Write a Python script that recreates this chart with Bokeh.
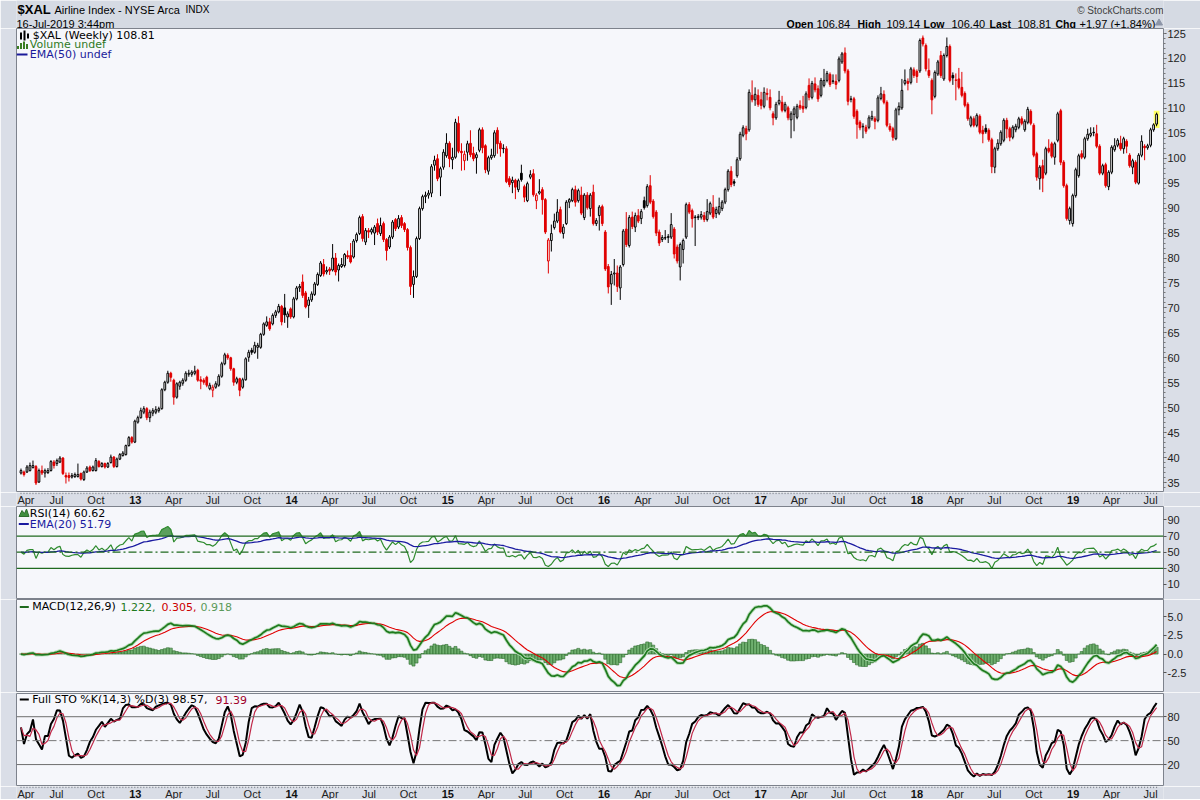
import numpy as np
import pandas as pd
from bokeh.plotting import figure
from bokeh.layouts import column
from bokeh.models import (Range1d, FixedTicker, Span, PrintfTickFormatter, Label,
                          LabelSet, ColumnDataSource)
from bokeh.core.properties import value
from bokeh.embed import file_html
from bokeh.resources import INLINE

# ---------------- data (weekly $XAL) ----------------
last_week = "2019-07-15"
opens = [36.9, 37.1, 37.1, 37.4, 38.0, 38.2, 35.1, 37.4, 36.9, 37.0,
         37.4, 39.1, 38.8, 39.1, 39.9, 36.4, 36.4, 36.1, 36.2, 36.2,
         36.8, 35.6, 37.1, 38.1, 37.4, 37.4, 39.2, 38.2, 38.8, 38.1,
         39.0, 40.1, 38.2, 39.7, 40.4, 40.6, 42.4, 44.0, 43.1, 47.1,
         48.0, 49.1, 49.8, 48.0, 48.9, 49.1, 49.4, 49.8, 53.6, 55.1,
         56.9, 55.5, 52.1, 54.3, 54.9, 55.5, 56.7, 56.7, 56.9, 57.5,
         55.6, 55.5, 56.1, 53.8, 53.5, 54.1, 54.5, 56.3, 58.8, 60.5,
         60.0, 57.8, 55.1, 55.8, 54.1, 55.6, 60.1, 61.5, 61.1, 62.1,
         62.1, 64.7, 66.5, 67.2, 66.8, 68.5, 69.2, 70.3, 70.0, 68.2,
         69.8, 68.2, 71.8, 74.0, 75.2, 73.0, 70.5, 71.6, 72.7, 74.7,
         76.5, 78.7, 77.2, 77.8, 77.6, 80.0, 77.6, 78.3, 78.5, 80.5,
         80.5, 80.2, 83.5, 84.9, 88.3, 83.2, 85.5, 85.2, 85.0, 86.9,
         84.9, 86.9, 83.7, 82.2, 84.2, 87.7, 86.2, 88.1, 86.9, 85.7,
         82.1, 74.7, 76.3, 83.9, 89.9, 92.3, 92.6, 93.0, 98.6, 99.9,
         96.2, 98.2, 100.5, 103.0, 99.7, 100.2, 107.0, 101.4, 99.5, 101.2,
         103.0, 101.0, 100.1, 101.6, 105.7, 102.5, 97.4, 100.1, 100.5, 105.6,
         103.0, 101.9, 101.9, 95.9, 95.1, 95.6, 93.7, 97.0, 94.3, 91.5,
         96.2, 96.9, 91.5, 93.0, 93.7, 91.7, 79.4, 83.5, 86.1, 87.4,
         89.7, 84.9, 86.9, 91.2, 91.5, 93.7, 91.5, 92.6, 88.1, 92.6,
         89.9, 93.2, 86.9, 88.5, 90.3, 85.2, 78.3, 74.8, 76.8, 77.0,
         74.0, 78.7, 85.8, 82.5, 88.2, 86.2, 88.5, 87.9, 91.5, 90.5,
         94.5, 91.4, 89.2, 85.2, 83.7, 84.0, 84.1, 84.2, 85.8, 82.2,
         78.2, 81.7, 84.2, 90.7, 89.5, 88.1, 88.1, 88.2, 88.5, 87.7,
         89.0, 90.1, 88.9, 89.0, 89.9, 91.2, 93.7, 97.4, 95.3, 96.5,
         99.9, 104.6, 105.9, 105.7, 112.6, 111.7, 112.6, 111.7, 110.4, 113.0,
         112.2, 108.9, 108.1, 111.0, 111.2, 109.6, 110.1, 107.7, 108.8, 108.2,
         110.6, 110.4, 110.2, 114.6, 112.2, 114.9, 113.9, 112.6, 114.6, 115.6,
         116.8, 115.4, 115.4, 115.6, 119.3, 121.1, 117.5, 111.8, 111.9, 109.4,
         107.2, 106.3, 106.2, 106.2, 107.9, 107.9, 107.6, 112.0, 112.8, 111.2,
         106.4, 105.9, 103.9, 109.7, 110.1, 115.0, 115.4, 115.2, 117.7, 117.4,
         117.5, 124.1, 122.6, 117.6, 115.6, 112.4, 116.9, 120.6, 115.9, 120.6,
         122.4, 116.6, 115.7, 115.9, 114.2, 113.0, 110.8, 106.6, 107.9, 106.6,
         108.4, 105.6, 106.0, 105.6, 103.7, 98.2, 101.9, 102.9, 103.6, 107.6,
         105.9, 104.2, 105.7, 106.2, 107.9, 105.7, 107.2, 109.4, 106.6, 100.9,
         95.9, 98.5, 97.0, 102.0, 102.9, 100.2, 103.6, 109.5, 99.2, 94.5,
         87.5, 86.9, 92.5, 96.5, 100.9, 100.2, 103.9, 104.6, 105.2, 104.9,
         102.4, 97.0, 98.7, 94.3, 97.2, 101.7, 102.6, 103.0, 101.9, 103.4,
         100.6, 98.2, 99.2, 95.0, 100.6, 102.4, 102.1, 102.6, 105.7, 106.84]
highs = [37.8, 37.4, 38.5, 39.0, 39.4, 38.5, 37.8, 38.4, 37.8, 37.9,
         39.5, 39.5, 39.8, 40.3, 40.1, 37.0, 37.0, 36.9, 37.0, 38.8,
         37.0, 37.4, 38.3, 38.4, 38.4, 39.9, 39.5, 39.1, 39.0, 39.1,
         40.6, 40.3, 40.0, 40.9, 41.3, 42.6, 44.3, 44.3, 47.6, 48.4,
         50.0, 50.3, 50.1, 49.6, 49.9, 50.3, 50.2, 53.9, 55.4, 57.4,
         57.2, 55.8, 55.1, 55.4, 55.9, 57.3, 57.6, 57.5, 58.4, 57.8,
         56.3, 55.9, 56.4, 55.0, 54.6, 55.3, 56.7, 59.2, 61.0, 60.9,
         60.2, 58.0, 56.2, 56.0, 56.0, 60.1, 61.6, 62.0, 63.2, 63.0,
         65.0, 67.1, 68.3, 68.0, 68.9, 69.6, 70.8, 70.6, 72.8, 69.3,
         70.1, 72.2, 74.4, 74.8, 76.7, 73.4, 72.2, 73.3, 75.2, 77.1,
         79.4, 79.8, 78.3, 78.2, 82.8, 81.0, 78.9, 80.0, 81.0, 81.5,
         83.0, 83.8, 85.1, 88.5, 88.8, 86.0, 86.0, 86.1, 86.6, 87.9,
         88.1, 87.3, 84.0, 84.6, 87.6, 88.0, 88.6, 88.6, 87.2, 86.0,
         82.5, 77.5, 84.3, 90.3, 92.7, 93.3, 93.6, 98.8, 100.5, 100.8,
         98.3, 101.8, 105.0, 103.4, 102.1, 107.9, 108.4, 103.0, 101.5, 103.5,
         105.6, 102.3, 101.2, 106.1, 106.2, 102.8, 100.5, 101.9, 105.6, 106.2,
         103.5, 102.8, 102.4, 96.4, 96.3, 95.9, 95.9, 98.7, 94.7, 95.3,
         97.6, 97.8, 93.0, 95.8, 94.2, 92.0, 84.0, 86.7, 88.9, 91.8,
         90.3, 86.8, 91.6, 92.0, 94.1, 94.5, 93.9, 94.3, 93.0, 93.2,
         93.0, 94.7, 88.0, 90.6, 90.7, 85.6, 78.8, 77.4, 79.8, 78.5,
         78.6, 85.8, 89.2, 88.6, 89.3, 89.1, 89.8, 89.8, 92.3, 94.8,
         96.6, 91.8, 89.6, 85.7, 84.6, 85.6, 84.8, 89.0, 86.2, 82.7,
         83.1, 83.9, 91.1, 91.2, 89.9, 88.6, 88.8, 89.4, 89.2, 91.8,
         91.3, 92.6, 90.3, 92.1, 91.6, 94.1, 97.8, 98.4, 95.8, 100.2,
         105.3, 106.6, 106.5, 113.8, 115.6, 114.2, 113.8, 113.3, 114.2, 114.0,
         113.8, 109.4, 111.3, 113.5, 112.5, 111.3, 110.5, 109.4, 110.4, 110.9,
         111.6, 112.5, 113.4, 116.0, 115.5, 116.2, 114.6, 116.1, 117.9, 117.5,
         117.2, 116.8, 116.8, 120.4, 121.3, 122.2, 117.9, 112.5, 112.3, 109.8,
         107.6, 107.0, 106.7, 108.6, 109.5, 108.4, 112.6, 114.3, 113.6, 111.6,
         107.0, 106.3, 110.1, 111.2, 115.9, 117.8, 116.0, 118.3, 118.2, 117.8,
         124.0, 124.6, 123.0, 120.0, 116.0, 117.6, 119.7, 121.5, 121.0, 124.2,
         122.8, 117.2, 117.0, 118.1, 117.3, 113.4, 111.2, 108.5, 108.4, 109.0,
         108.8, 106.5, 106.8, 106.0, 104.1, 102.3, 103.8, 105.6, 108.0, 108.1,
         106.3, 106.6, 106.9, 108.3, 108.4, 107.8, 110.3, 109.8, 107.0, 101.3,
         98.6, 99.7, 102.3, 103.8, 103.3, 103.3, 109.3, 109.9, 99.6, 94.9,
         90.3, 92.9, 98.1, 100.9, 101.6, 104.3, 105.9, 106.2, 106.2, 106.7,
         102.8, 98.9, 99.1, 97.6, 102.6, 104.0, 104.0, 104.5, 104.3, 103.8,
         101.0, 99.9, 99.6, 101.0, 104.6, 102.8, 102.9, 106.1, 107.0, 109.14]
lows = [36.6, 36.2, 36.9, 37.2, 37.8, 34.5, 34.9, 36.5, 36.0, 36.7,
        37.2, 37.8, 38.3, 38.9, 36.5, 34.8, 35.2, 35.8, 35.9, 36.0,
        35.4, 35.3, 36.9, 37.1, 37.2, 37.2, 38.0, 38.0, 37.8, 37.9,
        38.8, 37.9, 38.0, 39.5, 40.2, 40.4, 42.2, 42.8, 42.9, 46.8,
        47.8, 48.7, 47.5, 47.1, 48.3, 48.7, 49.0, 49.6, 53.3, 54.8,
        55.2, 50.6, 51.8, 53.6, 54.4, 55.2, 56.2, 56.2, 56.5, 55.2,
        53.7, 54.6, 54.1, 53.5, 52.1, 53.8, 54.2, 56.0, 58.5, 59.6,
        57.4, 54.4, 54.7, 52.3, 53.8, 55.4, 59.2, 60.6, 60.8, 59.8,
        61.8, 64.4, 66.2, 65.4, 66.5, 68.0, 68.9, 66.5, 67.0, 66.0,
        67.8, 67.9, 71.5, 73.2, 72.0, 69.9, 68.0, 71.2, 72.4, 74.4,
        76.2, 76.3, 76.7, 76.6, 77.3, 76.5, 75.3, 78.0, 78.1, 79.8,
        78.9, 79.9, 83.1, 84.6, 83.3, 82.6, 84.0, 84.7, 82.6, 84.6,
        84.4, 83.2, 79.5, 81.8, 83.8, 85.4, 85.8, 86.0, 85.2, 81.5,
        72.6, 72.0, 76.0, 83.6, 89.5, 91.0, 91.9, 92.2, 97.5, 95.4,
        92.4, 97.7, 100.1, 98.2, 97.8, 99.9, 101.0, 97.5, 97.6, 99.5,
        100.2, 99.4, 96.9, 101.2, 101.0, 97.0, 96.7, 99.7, 100.1, 100.9,
        100.3, 101.0, 95.0, 94.2, 93.0, 91.8, 93.2, 95.3, 91.2, 91.2,
        95.8, 92.3, 89.8, 92.7, 88.7, 84.8, 76.9, 81.3, 85.7, 87.0,
        84.9, 83.9, 86.6, 90.0, 91.2, 90.3, 91.1, 88.6, 87.6, 89.7,
        88.3, 86.5, 86.4, 85.5, 86.4, 77.4, 72.9, 70.6, 74.5, 73.2,
        71.6, 78.3, 82.2, 82.1, 85.8, 85.2, 87.0, 86.8, 89.7, 90.1,
        90.8, 87.9, 84.4, 82.4, 83.2, 83.6, 83.0, 83.8, 79.9, 78.9,
        75.5, 78.9, 83.8, 88.8, 86.1, 82.4, 87.6, 87.7, 87.2, 87.3,
        88.6, 87.8, 88.0, 88.6, 89.4, 90.8, 93.3, 94.2, 94.4, 96.1,
        99.5, 104.2, 103.6, 105.3, 111.2, 110.5, 110.3, 109.8, 110.0, 111.6,
        109.6, 106.6, 107.7, 110.6, 109.2, 109.2, 107.6, 104.0, 105.4, 107.8,
        109.7, 109.1, 109.8, 111.6, 111.8, 113.2, 111.3, 112.2, 114.2, 115.2,
        114.3, 114.9, 113.8, 115.2, 118.9, 117.0, 110.6, 111.2, 107.9, 103.9,
        105.6, 104.0, 104.9, 105.8, 107.5, 105.8, 107.2, 111.6, 110.8, 106.2,
        105.3, 103.5, 103.6, 108.6, 109.7, 114.6, 113.6, 114.8, 116.1, 115.1,
        117.1, 122.4, 117.4, 116.1, 108.8, 112.0, 116.5, 116.1, 115.5, 120.2,
        115.2, 114.7, 111.6, 113.8, 112.2, 110.2, 107.5, 106.2, 106.2, 106.2,
        104.8, 103.0, 104.9, 103.3, 97.0, 97.0, 101.5, 102.5, 103.2, 104.0,
        103.4, 103.8, 105.2, 105.8, 106.6, 105.3, 106.8, 106.6, 100.2, 95.5,
        93.7, 93.2, 96.6, 101.0, 100.0, 98.7, 103.2, 98.6, 94.1, 87.5,
        86.7, 86.3, 92.1, 96.1, 99.8, 99.8, 103.5, 104.2, 104.4, 102.0,
        96.6, 96.6, 94.1, 93.6, 96.8, 101.3, 102.2, 101.5, 100.9, 101.0,
        98.1, 96.8, 94.8, 94.7, 100.2, 99.6, 101.7, 102.2, 105.3, 106.40]
closes = [37.4, 36.6, 38.1, 38.4, 38.4, 34.9, 37.4, 36.9, 37.4, 37.4,
          39.2, 38.4, 39.4, 39.9, 36.8, 36.1, 36.0, 36.4, 36.6, 36.6,
          35.7, 37.1, 37.9, 37.4, 38.1, 39.4, 38.2, 38.8, 38.1, 38.8,
          40.1, 38.2, 39.7, 40.6, 40.9, 42.4, 44.0, 43.1, 47.3, 48.0,
          49.4, 49.8, 48.0, 49.1, 49.4, 49.6, 49.8, 53.6, 55.1, 56.9,
          56.1, 52.1, 54.8, 55.1, 55.5, 56.9, 56.9, 57.1, 57.3, 55.5,
          55.3, 55.1, 54.5, 54.5, 54.1, 54.8, 56.3, 58.8, 60.6, 60.0,
          57.8, 55.1, 55.8, 53.5, 55.6, 59.8, 61.1, 61.1, 62.5, 62.5,
          64.7, 66.8, 67.2, 65.8, 68.5, 69.2, 70.3, 67.2, 68.6, 68.8,
          68.2, 71.8, 74.0, 74.3, 72.5, 70.2, 71.6, 72.8, 74.8, 76.7,
          79.0, 76.8, 77.5, 77.4, 80.0, 77.2, 78.5, 78.7, 80.7, 80.2,
          79.2, 83.4, 84.7, 88.1, 83.9, 85.5, 85.2, 85.7, 86.2, 85.2,
          86.5, 83.7, 81.5, 84.2, 87.2, 85.9, 87.9, 86.5, 85.7, 82.1,
          74.3, 76.3, 83.9, 89.9, 92.3, 92.6, 93.0, 98.3, 99.6, 95.9,
          97.9, 101.2, 103.0, 99.9, 100.2, 107.2, 101.4, 101.1, 100.8, 102.9,
          100.7, 99.9, 100.7, 105.7, 102.1, 97.7, 100.1, 100.6, 105.1, 102.9,
          101.9, 102.0, 95.3, 94.7, 95.6, 94.2, 95.5, 95.7, 92.2, 94.9,
          96.7, 92.7, 92.6, 93.3, 91.7, 85.2, 83.6, 84.9, 87.4, 89.2,
          85.2, 86.2, 91.2, 91.7, 93.7, 91.2, 93.5, 89.0, 92.6, 90.1,
          92.6, 86.9, 87.5, 90.2, 86.9, 77.8, 74.2, 76.7, 77.0, 74.3,
          78.2, 85.4, 82.7, 88.1, 86.3, 88.5, 87.4, 89.3, 90.1, 94.3,
          91.2, 88.3, 85.0, 83.0, 84.1, 84.1, 84.3, 86.7, 80.8, 79.4,
          82.7, 83.5, 90.7, 89.2, 87.9, 88.2, 88.3, 88.7, 87.7, 89.3,
          90.9, 88.2, 89.7, 90.3, 91.2, 93.7, 97.4, 94.7, 95.0, 99.7,
          104.8, 106.1, 104.9, 113.2, 111.7, 112.8, 110.8, 110.6, 113.2, 112.8,
          110.1, 108.1, 110.8, 111.6, 109.6, 110.8, 108.1, 108.9, 109.9, 110.4,
          110.1, 109.9, 112.9, 112.2, 115.0, 113.7, 111.9, 115.6, 115.6, 117.0,
          114.8, 115.5, 114.8, 119.9, 120.9, 117.5, 111.4, 111.9, 108.4, 106.8,
          106.1, 106.4, 105.4, 108.1, 108.4, 107.4, 112.1, 112.9, 111.2, 106.6,
          105.7, 104.2, 109.7, 110.4, 113.6, 115.6, 115.0, 117.9, 116.6, 116.4,
          123.6, 122.9, 117.9, 116.6, 111.7, 117.2, 119.3, 116.6, 120.6, 122.4,
          115.6, 116.1, 115.6, 114.2, 112.6, 110.6, 107.9, 108.1, 106.6, 108.6,
          105.2, 104.9, 105.3, 103.7, 98.3, 101.9, 103.0, 105.2, 107.6, 105.9,
          104.2, 106.2, 106.4, 107.9, 107.0, 107.4, 109.8, 107.0, 100.6, 96.2,
          98.2, 96.0, 101.9, 101.4, 100.4, 102.9, 108.9, 99.2, 94.5, 87.9,
          89.9, 92.5, 97.7, 100.5, 100.2, 103.9, 104.8, 105.0, 105.1, 102.4,
          97.0, 98.5, 94.5, 97.2, 102.2, 102.5, 103.6, 101.9, 103.9, 102.4,
          98.5, 99.5, 95.2, 100.6, 103.4, 102.1, 102.5, 105.7, 106.7, 108.81]

price_ticks = list(range(35, 130, 5))
rsi_ticks = [10, 30, 50, 70, 90]
macd_ticks = [-2.5, 0.0, 2.5, 5.0]
sto_ticks = [20, 50, 80]
rsi_levels = [70, 30]
sto_levels = [80, 20]

# ---------------- derived series ----------------
O = np.array(opens); H = np.array(highs); L = np.array(lows); C = np.array(closes)
n = len(C)
idx = np.arange(n)
dates = pd.date_range(end=last_week, periods=n, freq="W-MON")

d = np.diff(C, prepend=C[0])
gain = np.clip(d, 0, None)
loss = np.clip(-d, 0, None)
ag = al = np.mean(np.abs(d[1:15])) / 2
rsi = np.empty(n)
for i in range(n):
    if i > 0:
        ag = (ag * 13 + gain[i]) / 14
        al = (al * 13 + loss[i]) / 14
    rsi[i] = 100 - 100 / (1 + ag / al) if al > 0 else 100.0
rsi_ema = pd.Series(rsi).ewm(span=20, adjust=False).mean().values

cs = pd.Series(C)
macd = (cs.ewm(span=12, adjust=False).mean() - cs.ewm(span=26, adjust=False).mean()).values
signal = pd.Series(macd).ewm(span=9, adjust=False).mean().values
hist = macd - signal

hh = pd.Series(H).rolling(14, min_periods=1).max().values
ll = pd.Series(L).rolling(14, min_periods=1).min().values
fastk = 100 * (C - ll) / (hh - ll)
stok = pd.Series(fastk).rolling(3, min_periods=1).mean().values
stod = pd.Series(stok).rolling(3, min_periods=1).mean().values

# ---------------- styling / geometry ----------------
PLOT_BG = "#F6F7FB"
BORDER = "#DADEE7"
HEAD_BG = "#D5DAE3"
LAB_BG = "#D9DDE6"
OUTLINE = "#7D828C"
RED = "#E00000"
W = 1200
LEFT, RIGHT = 16, 37
FRAME_W = W - LEFT - RIGHT
X0 = -1.5
X1 = n - 1 + 2.3
xr = Range1d(X0, X1)
ppu = FRAME_W / (X1 - X0)
LEG_FONT = value("DejaVu Sans")
AX_FONT = "Liberation Sans"


def fx(px):
    return X0 + px / ppu


def fy(py, yr, h):
    return yr[1] - py * (yr[1] - yr[0]) / h


def base_fig(h, x_range, y_range, top=0):
    p = figure(width=W, height=h + top, x_range=x_range, y_range=y_range,
               output_backend="svg", toolbar_location=None, tools="",
               x_axis_location=None, y_axis_location=None,
               min_border_left=LEFT, min_border_right=RIGHT,
               min_border_top=top, min_border_bottom=0)
    p.grid.visible = False
    return p


def panel(h, yr, ticks, top=0, minor=None):
    p = figure(width=W, height=h + top, x_range=xr, y_range=Range1d(*yr),
               output_backend="svg", toolbar_location=None, tools="",
               x_axis_location=None, y_axis_location="right",
               min_border_left=LEFT, min_border_right=RIGHT,
               min_border_top=top, min_border_bottom=0)
    p.background_fill_color = PLOT_BG
    p.border_fill_color = BORDER
    p.outline_line_color = OUTLINE
    p.outline_line_width = 1
    p.xgrid.visible = False
    p.ygrid.visible = False
    ax = p.yaxis[0]
    ax.ticker = FixedTicker(ticks=ticks, minor_ticks=minor or [])
    ax.axis_line_color = None
    ax.major_tick_out = 3
    ax.major_tick_in = 0
    ax.minor_tick_out = 2
    ax.minor_tick_in = 0
    ax.major_tick_line_color = "#555555"
    ax.minor_tick_line_color = "#777777"
    ax.major_label_standoff = 1
    ax.major_label_text_font = AX_FONT
    ax.major_label_text_font_size = "11px"
    ax.major_label_text_color = "#222222"
    return p


def ptext(p, yr, h, px, py, txt, color="#000000", size="11px", style="normal"):
    p.text(x=[fx(px)], y=[fy(py, yr, h)], text=[txt], text_color=color,
           text_font=LEG_FONT, text_font_size=size, text_font_style=style,
           text_align="left", text_baseline="middle")


def hline_icon(p, yr, h, px0, px1, py, color, width=2):
    p.line(x=[fx(px0), fx(px1)], y=[fy(py, yr, h)] * 2, line_color=color, line_width=width)


# ---------------- header ----------------
HDR_H = 28
hdr = base_fig(HDR_H, Range1d(LEFT, W - RIGHT), Range1d(0, HDR_H))
hdr.background_fill_color = HEAD_BG
hdr.border_fill_color = HEAD_BG
hdr.outline_line_color = None


def htext(x, y_top, txt, size="12px", style="normal", color="#000000", align="left"):
    hdr.add_layout(Label(x=x, y=HDR_H - y_top, text=txt, text_font=AX_FONT,
                         text_font_size=size, text_font_style=style, text_color=color,
                         text_align=align, text_baseline="middle"))


htext(17, 8.5, "$XAL", size="13px", style="bold")
htext(54, 9, "Airline Index - NYSE Arca", size="11px")
htext(185, 9, "INDX", size="10px")
htext(16, 23, "16-Jul-2019 3:44pm", size="11px")
htext(1163, 9.5, "\u00a9 StockCharts.com", size="10px", color="#404040", align="right")
parts = [(786, "Open", "bold"), (816, "106.84", "normal"), (857, "High", "bold"),
         (886, "109.14", "normal"), (923, "Low", "bold"), (951, "106.40", "normal"),
         (989, "Last", "bold"), (1017, "108.81", "normal"), (1055, "Chg", "bold"),
         (1079, "+1.97 (+1.84%)", "normal")]
for x, t, s in parts:
    htext(x, 23, t, size="10.5px" if s == "bold" else "11px", style=s)
hdr.scatter(x=[1158.5], y=[HDR_H - 22.5], marker="triangle", size=7, color="#8D96A8")

# ---------------- main price panel ----------------
MH = 464
MYR = (33.0, 126.0)
main = panel(MH, MYR, price_ticks, minor=list(range(34, 126)))

prevC = np.r_[O[0], C[:-1]]
line_col = np.where(C >= prevC, "#000000", RED)
fill_col = np.where(C > O, "#FFFFFF", line_col)
top = np.maximum(O, C)
bot = np.minimum(O, C)
hi = np.maximum(H, top)
lo = np.minimum(L, bot)

main.quad(left=[idx[-1] - 0.95], right=[idx[-1] + 0.95], bottom=[lo[-1] - 0.35],
          top=[hi[-1] + 0.35], fill_color="#FFFF66", line_color=None)
main.segment(x0=idx, y0=lo, x1=idx, y1=hi, line_color=list(line_col), line_width=1)
main.vbar(x=idx, width=0.58, top=top, bottom=bot, fill_color=list(fill_col),
          line_color=list(line_col), line_width=1)

for px, a, b in [(4.5, 4, 11), (8, 2, 12), (11.5, 5, 10)]:
    main.segment(x0=[fx(px)], y0=[fy(a, MYR, MH)], x1=[fx(px)], y1=[fy(b, MYR, MH)],
                 line_color="#000000", line_width=2)
ptext(main, MYR, MH, 16.3, 7, "$XAL (Weekly) 108.81")
for px, a in [(1.5, 17.5), (4.5, 14.5), (7.5, 13), (10.5, 15.5)]:
    main.segment(x0=[fx(px)], y0=[fy(a, MYR, MH)], x1=[fx(px)], y1=[fy(20.5, MYR, MH)],
                 line_color="#3A7D22", line_width=2)
ptext(main, MYR, MH, 13.3, 16.3, "Volume undef", color="#2F7A1F")
hline_icon(main, MYR, MH, 0, 11, 26, "#1A1A9A")
ptext(main, MYR, MH, 13.3, 26, "EMA(50) undef", color="#1A1A9A")

# ---------------- x label rows ----------------
qs = pd.date_range("2012-04-01", "2019-07-01", freq="QS")
qpos = ((qs - dates[0]).days / 7.0).values
is_year = np.array([q.month == 1 for q in qs])
qlab = ["%02d" % (q.year % 100) if q.month == 1 else q.strftime("%b") for q in qs]
edge = X0 + 9.5 / ppu          # a label centred closer than this to the frame edge
q_align = ["left" if q < edge else "center" for q in qpos]
q_x = [X0 + 0.3 if q < edge else q for q in qpos]


def xlabels(h):
    p = base_fig(h, xr, Range1d(0, h))
    p.background_fill_color = LAB_BG
    p.border_fill_color = LAB_BG
    p.outline_line_color = None
    p.segment(x0=idx, y0=[h] * n, x1=idx, y1=[h - 1.6] * n, line_color="#7A7F88", line_width=1)
    for bold in (False, True):
        sel = [k for k in range(len(qs)) if is_year[k] == bold]
        src = ColumnDataSource(dict(x=[q_x[k] for k in sel], y=[h / 2 - 0.5] * len(sel),
                                    t=[qlab[k] for k in sel], a=[q_align[k] for k in sel]))
        p.add_layout(LabelSet(x="x", y="y", text="t", source=src, text_font=value(AX_FONT),
                              text_font_size="11px",
                              text_font_style="bold" if bold else "normal",
                              text_color="#111111" if bold else "#222222",
                              text_align="a", text_baseline="middle"))
    return p


xl1 = xlabels(14)

# ---------------- RSI panel ----------------
RH = 93
RYR = (-8.6, 106.6)
rp = panel(RH, RYR, rsi_ticks)
rp.varea(x=idx, y1=[70] * n, y2=np.maximum(rsi, 70), fill_color="#3F8F3F", fill_alpha=0.85)
rp.varea(x=idx, y1=np.minimum(rsi, 30), y2=[30] * n, fill_color="#3F8F3F", fill_alpha=0.85)
for lv in rsi_levels:
    rp.add_layout(Span(location=lv, dimension="width", line_color="#1F6A1F", line_width=1.3))
rp.add_layout(Span(location=50, dimension="width", line_color="#1F6A1F", line_width=1.2,
                   line_dash="8 3 2 3"))
rp.line(idx, rsi, line_color="#2E8B2E", line_width=1.2)
rp.line(idx, rsi_ema, line_color="#1A1AA0", line_width=1.3)
rp.patch(x=[fx(2.5), fx(5.5), fx(8), fx(10), fx(12.5)],
         y=[fy(10, RYR, RH), fy(4, RYR, RH), fy(7, RYR, RH), fy(2.5, RYR, RH), fy(10, RYR, RH)],
         fill_color="#3F8F3F", line_color="#2E6E2E")
ptext(rp, RYR, RH, 13.3, 6.6, "RSI(14) 60.62")
hline_icon(rp, RYR, RH, 2.3, 12.3, 17.6, "#1A1AA0")
ptext(rp, RYR, RH, 13.3, 17.6, "EMA(20) 51.79", color="#1A1AA0")

# ---------------- MACD panel ----------------
MCH = 93
MCYR = (-5.14, 7.3)
mp = panel(MCH, MCYR, macd_ticks)
mp.yaxis[0].formatter = PrintfTickFormatter(format="%.1f")
mp.vbar(x=idx, width=1.0, top=hist, bottom=0, fill_color="#6FAF6F", line_color="#2A6A2A",
        line_width=0.6)
mp.line(idx, macd, line_color="#B8DDB8", line_width=3.5)
mp.line(idx, signal, line_color="#E00000", line_width=1.1)
mp.line(idx, macd, line_color="#1E7A1E", line_width=1.7)
hline_icon(mp, MCYR, MCH, 3.3, 12.3, 7.4, "#1E6A1E")
ptext(mp, MCYR, MCH, 15.7, 7.4, "MACD(12,26,9)")
ptext(mp, MCYR, MCH, 104, 7.4, "1.222,", color="#1E7A1E")
ptext(mp, MCYR, MCH, 145, 7.4, "0.305,", color="#CC0000")
ptext(mp, MCYR, MCH, 184, 7.4, "0.918", color="#5A9A5A")

# ---------------- Full STO panel ----------------
SH = 93
SYR = (-7.5, 109.1)
sp = panel(SH, SYR, sto_ticks, top=1)
for lv in sto_levels:
    sp.add_layout(Span(location=lv, dimension="width", line_color="#6E6E6E", line_width=1))
sp.add_layout(Span(location=50, dimension="width", line_color="#777777", line_width=1,
                   line_dash="8 3 2 3"))
sp.line(idx, stok, line_color="#000000", line_width=2)
sp.line(idx, stod, line_color="#C02848", line_width=1.2)
hline_icon(sp, SYR, SH, 3.3, 12.3, 6, "#000000")
ptext(sp, SYR, SH, 15.7, 6, "Full STO %K(14,3) %D(3) 98.57,")
ptext(sp, SYR, SH, 199, 6, "91.39", color="#A0002A")

xl2 = xlabels(13)

layout = column(hdr, main, xl1, rp, mp, sp, xl2, spacing=0)
open("out.html", "w").write(file_html(layout, INLINE, title="$XAL Weekly"))
